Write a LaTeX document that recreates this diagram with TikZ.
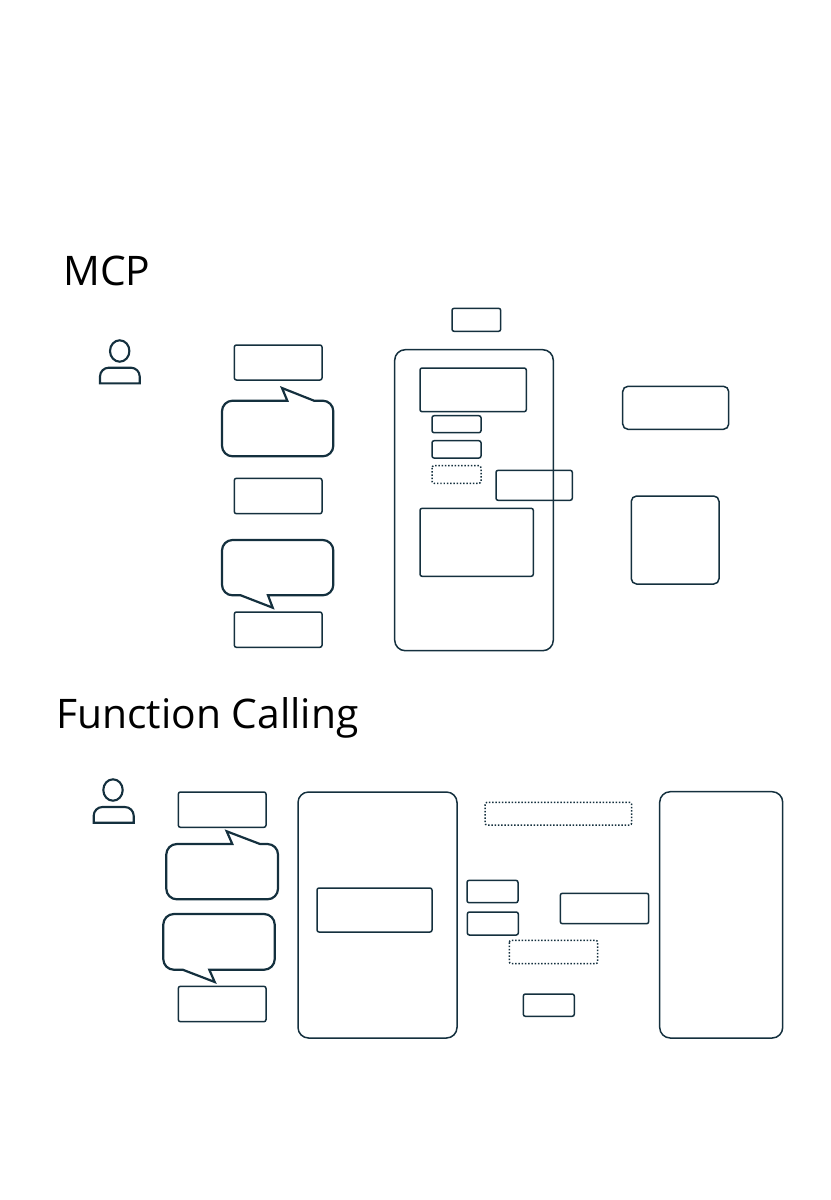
\documentclass[tikz,border=0pt]{standalone}
\usepackage{fontspec}
\setmainfont{Open Sans}
\definecolor{trait}{HTML}{14303E}

\begin{document}
\begin{tikzpicture}[x=0.02cm, y=-0.02cm, color=trait,
    boite/.style={draw=trait, line width=0.85pt, rounded corners=1.2pt},
    grande/.style={boite, rounded corners=6pt},
    moyenne/.style={boite, rounded corners=3pt},
    pointille/.style={boite, densely dotted},
    bulle/.style={draw=trait, line width=1.25pt, line join=miter},
    personne/.style={draw=trait, line width=1.2pt},
    titre/.style={font=\fontsize{23.2}{28}\selectfont, text=black, inner sep=0pt, anchor=base west}]

\useasboundingbox (0,0) rectangle (831,1200);

% Titres
\node[titre] (titreMCP) at (63,285) {MCP};
\node[titre] (titreFC) at (56,728) {Function Calling};

% Partie haute - MCP
% Personnage
\draw[personne] (119.7,351) ellipse (9.7 and 10.7);
\draw[personne] (100,383.3) [rounded corners=5pt] -- (100,367.7) -- (139.7,367.7) [sharp corners] -- (139.7,383.3) -- cycle;

% Colonne gauche
\draw[boite] (234.3,345) rectangle (322,380);
\draw[bulle] (320,400.7) [rounded corners=6pt] -- (333.3,400.7) -- (333.3,456.3) -- (222,456.3) -- (222,400.7) [sharp corners] -- (287.3,400.7) -- (282,388) -- (314,400.7) -- cycle;
\draw[boite] (234.3,478.3) rectangle (322,513.7);
\draw[bulle] (235,595.3) [rounded corners=6pt] -- (222,595.3) -- (222,540) -- (333.3,540) -- (333.3,595.3) [sharp corners] -- (268,595.3) -- (272.7,607.7) -- (240.7,595.3) -- cycle;
\draw[boite] (234.3,612) rectangle (322,647.3);

% Bloc central
\draw[boite] (452,308.3) rectangle (500.7,331.3);
\draw[grande] (394.7,349.7) rectangle (553.3,650.7);
\draw[boite] (420,368) rectangle (526.3,411.7);
\draw[boite] (432,415.7) rectangle (481,432.7);
\draw[boite] (432,440.7) rectangle (481,458);
\draw[pointille] (432,465.7) rectangle (481,483.3);
\draw[boite] (496,470.3) rectangle (572.3,500.3);
\draw[boite] (420,508.3) rectangle (533.3,576.3);

% Blocs de droite
\draw[moyenne] (622.7,386.3) rectangle (728.7,429.3);
\draw[moyenne] (631.3,496) rectangle (719,584);

% Partie basse - Function Calling
% Personnage
\draw[personne] (113,790) ellipse (9.7 and 10.7);
\draw[personne] (93.7,822.7) [rounded corners=5pt] -- (93.7,807) -- (133.7,807) [sharp corners] -- (133.7,822.7) -- cycle;

% Colonne gauche
\draw[boite] (178.3,792) rectangle (266,827.3);
\draw[bulle] (266,844) [rounded corners=6pt] -- (278,844) -- (278,899.3) -- (166.3,899.3) -- (166.3,844) [sharp corners] -- (232.3,844) -- (226.7,831.3) -- (260,844) -- cycle;
\draw[bulle] (176,969.7) [rounded corners=6pt] -- (163.3,969.7) -- (163.3,914) -- (274.7,914) -- (274.7,969.7) [sharp corners] -- (209.3,969.7) -- (214.7,982) -- (182.7,969.7) -- cycle;
\draw[boite] (178.3,986.3) rectangle (266,1021.7);

% Bloc central
\draw[grande] (298,792) rectangle (457,1038);
\draw[boite] (317,888) rectangle (432,932);

% Petites boites entre les blocs
\draw[pointille] (485,802.3) rectangle (631.7,825);
\draw[boite] (467,880.3) rectangle (518,902.7);
\draw[boite] (467.3,912) rectangle (518.3,935);
\draw[boite] (560.3,893.3) rectangle (648.7,923.7);
\draw[pointille] (509.3,940.3) rectangle (597.7,963.7);
\draw[boite] (523.3,994) rectangle (574.3,1016.3);

% Bloc de droite
\draw[grande] (659.7,791.7) rectangle (782.7,1038);

\end{tikzpicture}
\end{document}
